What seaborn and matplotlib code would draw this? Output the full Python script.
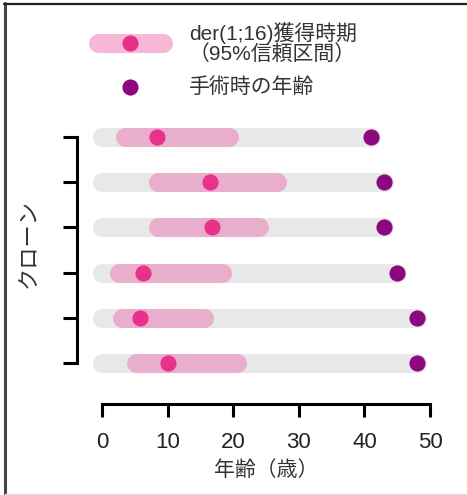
import matplotlib
matplotlib.use("Agg")
import matplotlib.pyplot as plt
import seaborn as sns
import pandas as pd
from matplotlib.lines import Line2D

# Per-clone estimates (years)
clones = ["1", "2", "3", "4", "5", "6"]
onset_age = [8.3, 16.4, 16.8, 6.2, 5.8, 10.1]
ci_low = [3.4, 8.5, 8.5, 2.5, 3.0, 5.1]
ci_high = [19.4, 26.6, 23.9, 18.3, 15.5, 20.5]
surgery_age = [41, 43, 43, 45, 48, 48]
x_ticks = [0, 10, 20, 30, 40, 50]

df = pd.DataFrame({
    "clone": clones,
    "row": range(len(clones)),
    "onset": onset_age,
    "lo": ci_low,
    "hi": ci_high,
    "surgery": surgery_age,
})

sns.set_theme(style="ticks")
plt.rcParams["font.family"] = ["Liberation Sans", "Noto Sans CJK JP", "DejaVu Sans"]

GRAY = "#e8e8e8"
CI_PINK = "#e8aecb"
LEG_PINK = "#f7b8d7"
DOT_PINK = "#e8318a"
PURPLE = "#8b087f"

W, H = 467, 495
fig = plt.figure(figsize=(W / 100, H / 100), dpi=100)
fig.patch.set_facecolor("white")

# main axes placed in pixel terms
x0_px, x50_px = 102.3, 430.0
top_px, bot_px = 114.0, 386.0
ax = fig.add_axes([x0_px / W, 1 - bot_px / H, (x50_px - x0_px) / W, (bot_px - top_px) / H])
ax.set_xlim(0, 50)
ax.set_ylim(len(clones) - 0.5, -0.5)

bar_lw = 13.7
for _, r in df.iterrows():
    ax.plot([0, r["surgery"]], [r["row"], r["row"]], color=GRAY, lw=bar_lw,
            solid_capstyle="round", clip_on=False, zorder=1)
    ax.plot([r["lo"], r["hi"]], [r["row"], r["row"]], color=CI_PINK, lw=bar_lw,
            solid_capstyle="round", clip_on=False, zorder=2)

sns.scatterplot(data=df, x="onset", y="row", color=DOT_PINK, s=135, linewidth=0,
                ax=ax, zorder=3, clip_on=False, legend=False)
sns.scatterplot(data=df, x="surgery", y="row", color=PURPLE, s=135, linewidth=0,
                ax=ax, zorder=3, clip_on=False, legend=False)

sns.despine(ax=ax, top=True, right=True)
ax.spines["left"].set_position(("outward", 25.6 * 0.72))
ax.spines["bottom"].set_position(("outward", 18 * 0.72))
ax.spines["left"].set_bounds(0, len(clones) - 1)
ax.spines["bottom"].set_bounds(0, 50)
for s in ("left", "bottom"):
    ax.spines[s].set_linewidth(2.2)
    ax.spines[s].set_color("black")

ax.set_yticks(df["row"])
ax.set_yticklabels([])
ax.set_xticks(x_ticks)
ax.set_xticklabels([str(t) for t in x_ticks], fontsize=16, color="#222222")
ax.tick_params(axis="y", length=10, width=2.2, color="black")
ax.tick_params(axis="x", length=9, width=2.2, color="black", pad=11.5)
ax.set_xlabel("年齢（歳）", fontsize=15, color="#333333", labelpad=5)
ax.set_ylabel("")
ax.set_facecolor("none")
ax.grid(False)

# overlay for legend, y label and frame, in pixel coordinates
ov = fig.add_axes([0, 0, 1, 1], zorder=5)
ov.set_xlim(0, W)
ov.set_ylim(H, 0)
ov.axis("off")
ov.patch.set_alpha(0)

ov.text(29, 243, "クローン", fontsize=16, rotation=90, ha="center", va="center",
        color="#333333")

ov.add_line(Line2D([97.5, 162.5], [43, 43], color=LEG_PINK, lw=bar_lw,
                   solid_capstyle="round"))
ov.scatter([130], [43], s=135, color=DOT_PINK, linewidths=0, zorder=3)
ov.scatter([130], [87], s=135, color=PURPLE, linewidths=0, zorder=3)
ov.text(189, 33, "der(1;16)獲得時期", fontsize=15, va="center", ha="left", color="#333333")
ov.text(189, 54, "（95%信頼区間）", fontsize=15, va="center", ha="left", color="#333333")
ov.text(189, 87, "手術時の年齢", fontsize=15, va="center", ha="left", color="#333333")

# window frame edges
ov.add_line(Line2D([5, 5], [3, H], color="#444444", lw=2.2))
ov.add_line(Line2D([4, W], [4, 4], color="#222222", lw=1.6))
ov.add_line(Line2D([5, W], [494, 494], color="#dddddd", lw=1.0))

fig.savefig("out.png", dpi=100)
